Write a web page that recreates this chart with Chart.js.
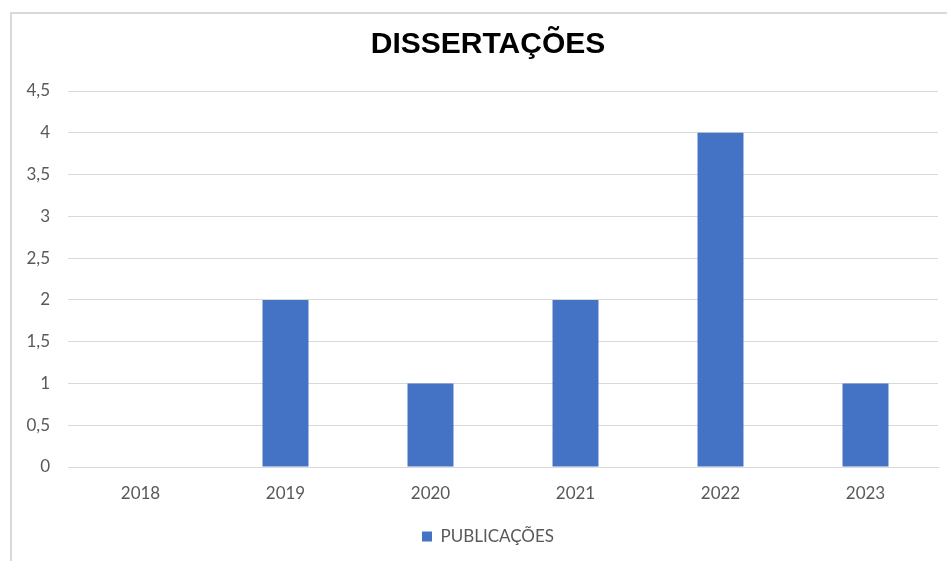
<!DOCTYPE html>
<html>
<head>
<meta charset="utf-8">
<script src="https://cdn.jsdelivr.net/npm/chart.js@4/dist/chart.umd.min.js"></script>
<style>
  html, body { margin: 0; padding: 0; background: #fff; overflow: hidden; }
  #wrap { position: relative; width: 947px; height: 561px; overflow: hidden; }
  #marco { position: absolute; left: 10px; top: 12px; width: 960px; height: 600px;
           border-left: 2px solid #d9d9d9; border-top: 2px solid #d9d9d9; }
  canvas { position: absolute; left: 0; top: 0; }
</style>
</head>
<body>
<div id="wrap">
  <div id="marco"></div>
  <canvas id="grafico" width="956" height="561"></canvas>
</div>
<script>
const anos = ["2018", "2019", "2020", "2021", "2022", "2023"];
const publicacoes = [0, 2, 1, 2, 4, 1];
const titulo = "DISSERTAÇÕES";
const serie = "PUBLICAÇÕES";

const fonteEixo = { family: "Lato, 'Open Sans', sans-serif", size: 17 };

const ctx = document.getElementById("grafico").getContext("2d");

new Chart(ctx, {
  type: "bar",
  data: {
    labels: anos,
    datasets: [
      {
        label: serie,
        data: publicacoes,
        backgroundColor: "#4472c4",
        categoryPercentage: 1,
        barPercentage: 0.317
      }
    ]
  },
  options: {
    responsive: false,
    animation: false,
    layout: { padding: { left: 20, right: 0, top: 0, bottom: 6 } },
    plugins: {
      title: {
        display: true,
        text: titulo,
        color: "#000",
        font: { family: "'Liberation Sans', Arial, sans-serif", size: 30, weight: "bold" },
        padding: { top: 27, bottom: 28 }
      },
      legend: {
        display: true,
        position: "bottom",
        labels: {
          color: "#595959",
          font: fonteEixo,
          boxWidth: 10,
          boxHeight: 10,
          padding: 10
        }
      },
      tooltip: { enabled: false }
    },
    scales: {
      x: {
        grid: { display: false, drawTicks: false },
        border: { display: true, color: "#d9d9d9", width: 1 },
        ticks: { color: "#595959", font: fonteEixo, padding: 16 },
        afterFit: (scale) => { scale.height = 51; }
      },
      y: {
        min: 0,
        max: 4.5,
        ticks: {
          stepSize: 0.5,
          color: "#595959",
          font: fonteEixo,
          padding: 18,
          callback: (v) => String(v).replace(".", ",")
        },
        grid: { color: "#d9d9d9", drawTicks: false },
        border: { display: false },
        afterFit: (scale) => { scale.width = 48; }
      },
      // eje vacío a la derecha, solo para centrar título y leyenda como en el original
      y2: {
        position: "right",
        min: 0,
        max: 4.5,
        grid: { display: false, drawTicks: false },
        border: { display: false },
        ticks: { display: false },
        afterFit: (scale) => { scale.width = 18; }
      }
    }
  }
});
</script>
</body>
</html>
